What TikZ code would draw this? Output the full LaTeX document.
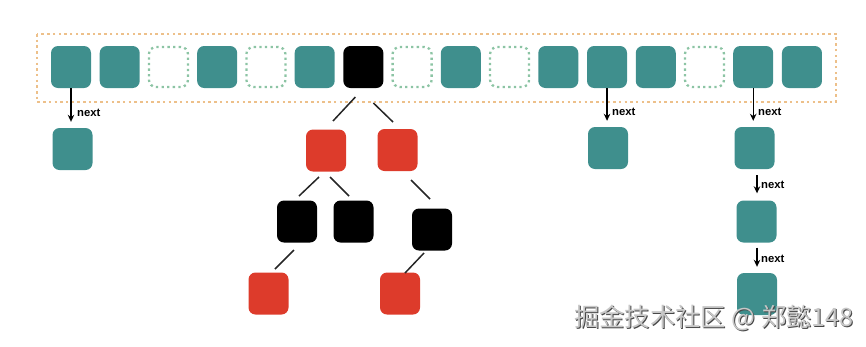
\documentclass[tikz,border=0pt]{standalone}
\usepackage{fontspec}
\setmainfont{Liberation Sans}
\newfontfamily\cjk{Noto Sans CJK SC}
\usetikzlibrary{arrows.meta}
\definecolor{teal1}{HTML}{3F8F8D}
\definecolor{red1}{HTML}{DD3B2B}
\definecolor{dotgreen}{HTML}{8CC4A4}
\definecolor{dotorange}{HTML}{EDC08A}
\tikzset{
 cell/.style={minimum width=40pt, minimum height=42pt, rounded corners=7pt, inner sep=0pt},
 tealbox/.style={cell, fill=teal1},
 redbox/.style={cell, fill=red1},
 blackbox/.style={cell, fill=black},
 emptybox/.style={cell, minimum width=39pt, minimum height=40pt, draw=dotgreen, line width=2.3pt, dash pattern=on 2.3pt off 3.3pt},
 nextarrow/.style={-{Stealth[length=7pt,width=6.5pt]}, line width=1.3pt},
 nextlabel/.style={font=\bfseries\fontsize{11.3}{11.3}\selectfont, inner sep=0pt, anchor=west},
 treeline/.style={line width=1.5pt, draw=black!85},
 frame/.style={draw=dotorange, line width=2.6pt, dash pattern=on 2.5pt off 3.2pt},
 wmfont/.style={font=\cjk\fontsize{25.3}{25.3}\selectfont},
}
\begin{document}
\begin{tikzpicture}[x=1pt,y=-1pt]
\useasboundingbox (0,0) rectangle (866,346);
% outer dotted frame
\draw[frame] (37,34) rectangle (836,102);
% top row
\foreach \i/\s in {1/tealbox,2/tealbox,3/emptybox,4/tealbox,5/emptybox,6/tealbox,7/blackbox,8/emptybox,9/tealbox,10/emptybox,11/tealbox,12/tealbox,13/tealbox,14/emptybox,15/tealbox,16/tealbox}
  \node[\s] (t\i) at ({71+48.73*(\i-1)},67) {};
% linked lists
\node[tealbox] (l1) at (72.5,149) {};
\node[tealbox] (l2) at (608,148) {};
\node[tealbox] (l3) at (754.5,148) {};
\node[tealbox] (l4) at (756.5,221.5) {};
\node[tealbox] (l5) at (757,294) {};
\draw[nextarrow, shorten >=6pt] (t1.south) -- (t1.south |- l1.north);
\node[nextlabel] (n1) at (77,113) {next};
\draw[nextarrow, shorten >=6pt] (t12.south) -- (t12.south |- l2.north);
\node[nextlabel] (n2) at (612,112) {next};
\draw[nextarrow, shorten >=6pt] (t15.south) -- (t15.south |- l3.north);
\node[nextlabel] (n3) at (758,112) {next};
\draw[nextarrow, shorten <=6pt, shorten >=7pt] ([xshift=2.5pt]l3.south) -- ([xshift=2.5pt]l3.south |- l4.north);
\node[nextlabel] (n4) at (761,185) {next};
\draw[nextarrow, shorten <=5pt, shorten >=6pt] ([xshift=0.5pt]l4.south) -- ([xshift=0.5pt]l4.south |- l5.north);
\node[nextlabel] (n5) at (761,259) {next};
% red-black tree
\node[redbox] (r1) at (326,150.5) {};
\node[redbox] (r2) at (397.5,150) {};
\node[blackbox] (b1) at (297,221.5) {};
\node[blackbox] (b2) at (353.5,221.5) {};
\node[blackbox] (b3) at (432,229.5) {};
\node[redbox] (r3) at (268.5,293.5) {};
\node[redbox] (r4) at (400,293.5) {};
\draw[treeline] ([shift={(-8,30)}]t7.center) -- ([shift={(7,-29.5)}]r1.center);
\draw[treeline] ([shift={(10,36)}]t7.center) -- ([shift={(-4.5,-28)}]r2.center);
\draw[treeline] ([shift={(-7,26.5)}]r1.center) -- ([shift={(2,-25.5)}]b1.center);
\draw[treeline] ([shift={(4,26.5)}]r1.center) -- ([shift={(-4.5,-25.5)}]b2.center);
\draw[treeline] ([shift={(13.5,30)}]r2.center) -- ([shift={(-2,-30.5)}]b3.center);
\draw[treeline] ([shift={(-3,28.5)}]b1.center) -- ([shift={(6.5,-24.5)}]r3.center);
\draw[treeline] ([shift={(-8,23.5)}]b3.center) -- ([shift={(5,-20.5)}]r4.center);
% watermark
\node[wmfont, text=black!72] (wms) at (715,318.5) {掘金技术社区 @ 郑懿148};
\node[wmfont, text=black!22] (wm) at (714,317.5) {掘金技术社区 @ 郑懿148};
\end{tikzpicture}
\end{document}
